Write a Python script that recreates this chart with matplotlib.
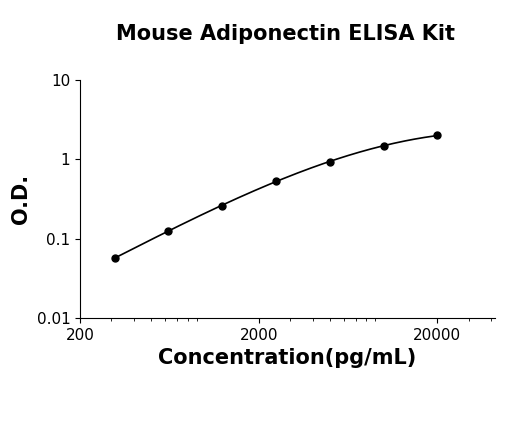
import matplotlib
matplotlib.use("Agg")
import matplotlib.pyplot as plt
import numpy as np

conc = [312.5, 625, 1250, 2500, 5000, 10000, 20000]
od = [0.057, 0.125, 0.26, 0.54, 0.93, 1.48, 2.0]
title = "Mouse Adiponectin ELISA Kit"
xlabel = "Concentration(pg/mL)"
ylabel = "O.D."

fig = plt.figure(figsize=(5.2, 4.21), dpi=100)
ax = fig.add_axes([80/520, 1-318/421, 415/520, 238/421])
lx, ly = np.log10(conc), np.log10(od)
p = np.polyfit(lx, ly, 3)
xs = np.linspace(lx[0], lx[-1], 200)
ax.plot(10**xs, 10**np.polyval(p, xs), color="black", lw=1.2)
ax.plot(conc, od, "o", color="black", ms=5)
ax.set_xscale("log"); ax.set_yscale("log")
ax.set_xlim(200, 42000); ax.set_ylim(0.01, 10)
ax.set_xticks([200, 2000, 20000]); ax.set_xticklabels(["200", "2000", "20000"])
ax.set_yticks([0.01, 0.1, 1, 10]); ax.set_yticklabels(["0.01", "0.1", "1", "10"])
ax.yaxis.set_minor_locator(matplotlib.ticker.NullLocator())
ax.tick_params(labelsize=11)
for s in ["top", "right"]:
    ax.spines[s].set_visible(False)
ax.set_xlabel(xlabel, fontsize=15, fontweight="bold")
ax.set_ylabel(ylabel, fontsize=15, fontweight="bold")
fig.text(0.55, 0.905, title, ha="center", fontsize=15, fontweight="bold")
fig.savefig("out.png", dpi=100)
